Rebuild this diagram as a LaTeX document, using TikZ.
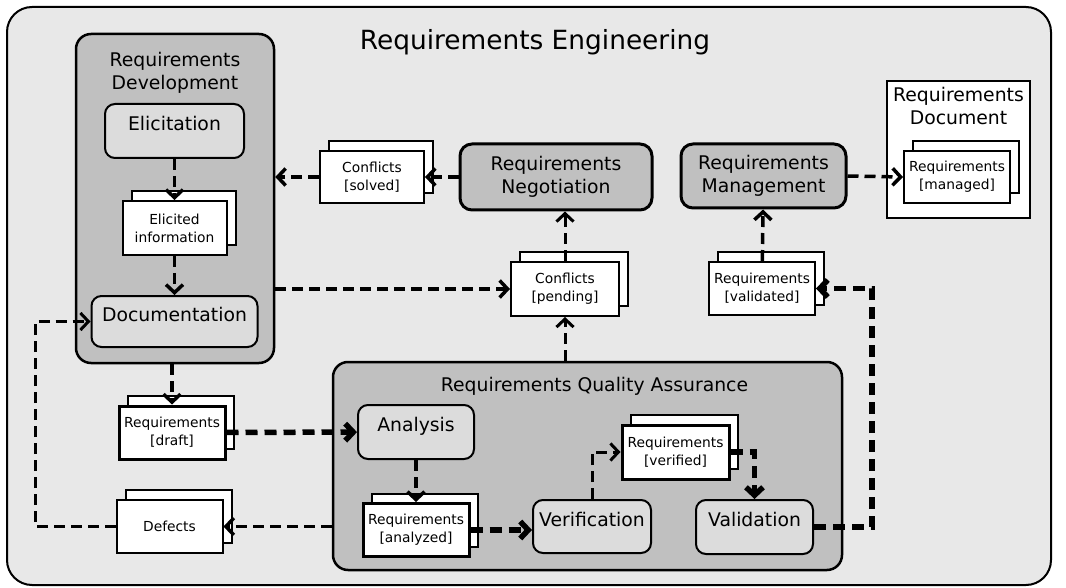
\documentclass[tikz,border=0pt]{standalone}
\usepackage{fontspec}
\setmainfont{DejaVu Sans}
\usetikzlibrary{positioning,arrows.meta,shadows}

\definecolor{reback}{HTML}{E8E8E8}
\definecolor{phasegrey}{HTML}{C0C0C0}
\definecolor{actgrey}{HTML}{DCDCDC}

\newcommand{\titlesize}{\fontsize{26.4}{31}\selectfont}
\newcommand{\boxsize}{\fontsize{18.8}{23}\selectfont}
\newcommand{\docsize}{\fontsize{13.8}{18}\selectfont}

\tikzset{
    phase/.style={draw, line width=2.5pt, fill=phasegrey, rounded corners=15pt},
    hub/.style={phase, line width=3pt, rounded corners=12pt, font=\boxsize, align=center},
    activity/.style={draw, line width=2pt, fill=actgrey, rounded corners=10pt,
        font=\boxsize, text height=14pt, text depth=15pt},
    docstack/.style={draw, line width=2pt, fill=white, inner sep=1pt, align=center,
        font=\docsize, minimum width=106pt, minimum height=53pt,
        general shadow={draw, fill=white, line width=2pt, shadow xshift=9pt, shadow yshift=10pt}},
    flow/.style={->, line width=3.5pt, dash pattern=on 11pt off 6pt},
    thinflow/.style={flow, line width=3pt},
    bigflow/.style={flow, line width=5.5pt, dash pattern=on 12pt off 7pt},
}

\begin{document}
\begin{tikzpicture}[x=1pt, y=-1pt, >={Straight Barb[length=8pt,width=17pt]}]
    \useasboundingbox (0,0) rectangle (1066,588);
    \node[draw, line width=2pt, fill=reback, rounded corners=25pt,
        minimum width=1044pt, minimum height=578pt] (re) at (529,296) {};
    \node[font=\titlesize] (retitle) at (535,42) {Requirements Engineering};

    % development
    \node[phase, minimum width=198pt, minimum height=329pt] (rd) at (175,198.5) {};
    \node[font=\boxsize, align=center] (rdtitle) at (175,73) {Requirements\\Development};
    \node[activity, minimum width=139pt, minimum height=54pt] (elicit) at (174.5,131) {Elicitation};
    \node[docstack, minimum width=104pt, minimum height=54pt, below=41pt of elicit] (elicited) {Elicited\\information};
    \node[activity, minimum width=166pt, minimum height=51pt, below=39pt of elicited] (docu) {Documentation};
    \node[docstack, line width=3pt] (draft) at (172,432.5) {Requirements\\{[draft]}};
    \node[docstack] (defects) at (169.5,526.5) {Defects};

    % quality assurance
    \node[phase, minimum width=509pt, minimum height=208pt] (qa) at (587.5,466) {};
    \node[font=\boxsize] (qatitle) at (594.5,386) {Requirements Quality Assurance};
    \node[activity, minimum width=116pt, minimum height=54pt] (analysis) at (416,432) {Analysis};
    \node[docstack, line width=3pt, below=42pt of analysis] (analyzed) {Requirements\\{[analyzed]}};
    \node[activity, minimum width=118pt, minimum height=53pt] (verif) at (592,526.5) {Verification};
    \node[docstack, line width=3pt, minimum width=107pt, minimum height=54pt] (verified) at (675.5,452) {Requirements\\{[verified]}};
    \node[activity, minimum width=117pt, minimum height=54pt] (valid) at (754.5,527) {Validation};

    % negotiation and management
    \node[docstack, minimum width=108pt, minimum height=54pt] (pending) at (565,289) {Conflicts\\{[pending]}};
    \node[hub, minimum width=192pt, minimum height=66pt] (nego) at (556,177) {Requirements\\Negotiation};
    \node[docstack, minimum width=104pt, minimum height=52pt] (solved) at (372,177) {Conflicts\\{[solved]}};
    \node[docstack] (validated) at (762,288.5) {Requirements\\{[validated]}};
    \node[hub, minimum width=165pt, minimum height=64pt] (mgmt) at (763.5,176) {Requirements\\Management};
    \node[draw, line width=2pt, fill=white, minimum width=143pt, minimum height=137pt] (reqdoc) at (958.5,149.5) {};
    \node[font=\boxsize, align=center, below=4pt of reqdoc.north] (reqdoctitle) {Requirements\\Document};
    \node[docstack, minimum height=52pt] (managed) at (957,177) {Requirements\\{[managed]}};

    \coordinate (vturn) at (872,0);
    \coordinate (dturn) at (35,0);

    \draw[flow] (elicit) -- (elicited);
    \draw[flow] (elicited) -- (docu);
    \draw[flow] (draft |- rd.south) -- (draft);
    \draw[bigflow] (draft) -- (analysis);
    \draw[flow] (analysis) -- (analyzed);
    \draw[bigflow] (analyzed.east) -- (analyzed.east -| verif.west);
    \draw[thinflow] (verif.north) |- (verified.west);
    \draw[bigflow] (verified.east) -| (valid.north);
    \draw[bigflow] (valid.east) -| (vturn |- validated.east) -- (validated.east);
    \draw[flow] (validated) -- (mgmt);
    \draw[flow] (mgmt.east) -- (managed.west);
    \draw[thinflow] (pending |- qa.north) -- (pending);
    \draw[thinflow] (pending.north) -- (pending.north |- nego.south);
    \draw[flow] (nego) -- (solved);
    \draw[flow] (solved) -- (solved -| rd.east);
    \draw[flow] (rd.east |- pending) -- (pending);
    \draw[flow] (qa.west |- defects) -- (defects);
    \draw[thinflow] (defects.west) -| (dturn |- docu.west) -- (docu.west);
\end{tikzpicture}
\end{document}
